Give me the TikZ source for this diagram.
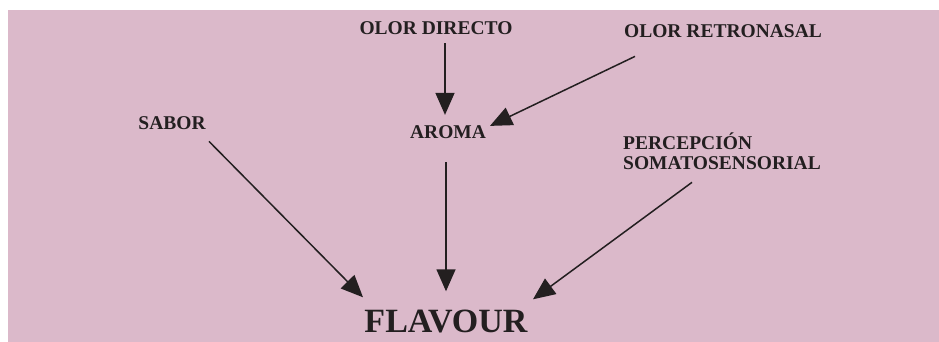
\documentclass[tikz,border=0pt]{standalone}
\usepackage{fontspec}
\setmainfont{Liberation Serif}
\usetikzlibrary{arrows.meta}

\definecolor{panelpink}{HTML}{DBB9CA}
\definecolor{inkgray}{HTML}{231F20}

\tikzset{
  label/.style={inner sep=0pt, text=inkgray, font=\fontsize{19.5}{20}\selectfont\bfseries},
  flow/.style={draw=inkgray, line width=1.5pt, -{Triangle[length=22pt,width=19pt]}}
}

\begin{document}
\begin{tikzpicture}[x=1pt, y=-1pt]
    \useasboundingbox (0,0) rectangle (939,342);
	\fill[panelpink] (8,10) rectangle (939,342);

	% sources
	\node[label, anchor=base] (direct) at (436,35) {OLOR DIRECTO};
	\node[label, anchor=base] (retro) at (723,38) {OLOR RETRONASAL};
	\node[label, anchor=base] (aroma) at (448,139) {AROMA};
	\node[label, anchor=base] (sabor) at (172,130) {SABOR};
	\node[label, anchor=north west, align=left] (percep) at (623,133) {PERCEPCIÓN\\SOMATOSENSORIAL};
	\node[label, anchor=base, font=\fontsize{34}{36}\selectfont\bfseries] (flavour) at (446,332) {FLAVOUR};

	% arrows into aroma
	\draw[flow] ([shift={(9,8)}]direct.south) -- ([shift={(-3,-11)}]aroma.north);
	\draw[flow] ([shift={(-88,18)}]retro.south) -- ([shift={(42,0)}]aroma.north);

	% arrows into flavour
	\draw[flow] ([shift={(37,11)}]sabor.south) -- ([shift={(-83,-12)}]flavour.north);
	\draw[flow] ([shift={(-2,23)}]aroma.south) -- ([shift={(0,-18)}]flavour.north);
	\draw[flow] ([shift={(69,12)}]percep.south west) -- ([shift={(87,-10)}]flavour.north);

\end{tikzpicture}
\end{document}
